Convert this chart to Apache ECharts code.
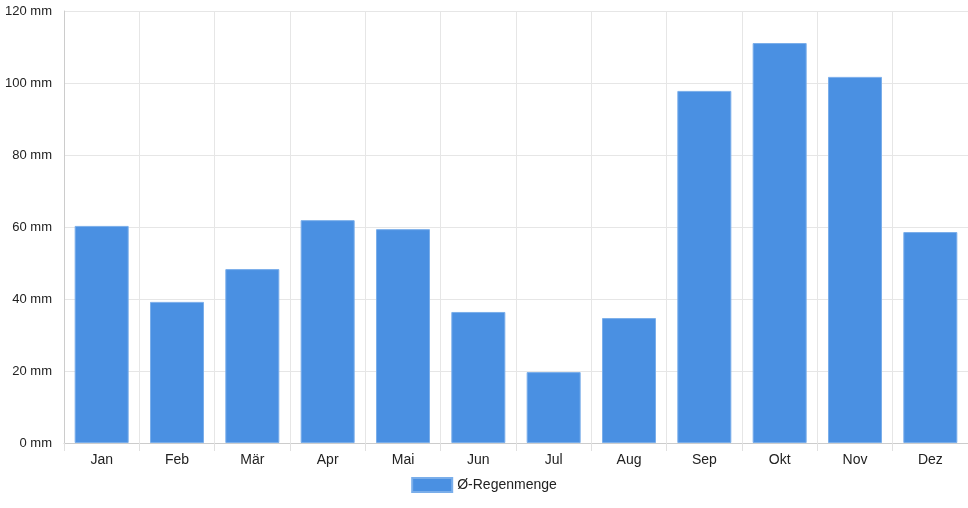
<!DOCTYPE html>
<html>
  <head>
    <meta charset="utf-8" />
    <script src="https://cdn.jsdelivr.net/npm/echarts@6/dist/echarts.min.js"></script>
  </head>
  <body style="margin:0">
    <div id="main" style="width:968px;height:508px;"></div>
    <script type="text/javascript">
      var months = ["Jan", "Feb", "Mär", "Apr", "Mai", "Jun", "Jul", "Aug", "Sep", "Okt", "Nov", "Dez"];
      var rain = [60.3, 39.2, 48.3, 61.9, 59.4, 36.4, 19.7, 34.7, 97.8, 111.1, 101.7, 58.6];

      var myChart = echarts.init(document.getElementById("main"));
      var font = "Liberation Sans, Arial, sans-serif";

      var option = {
        backgroundColor: "#fff",
        animation: false,
        textStyle: { fontFamily: font },
        grid: { left: 64, right: 0, top: 11, bottom: 65 },
        legend: {
          bottom: 10,
          itemWidth: 40,
          itemHeight: 14,
          itemGap: 10,
          icon: "rect",
          textStyle: { color: "#222", fontSize: 14, fontFamily: font },
          data: ["Ø-Regenmenge"]
        },
        xAxis: {
          type: "category",
          data: months,
          axisLine: { lineStyle: { color: "#ccc" } },
          axisTick: { show: true, length: 8, lineStyle: { color: "#e0e0e0" } },
          axisLabel: { color: "#222", fontSize: 14, margin: 10 },
          splitLine: { show: true, lineStyle: { color: "#e6e6e6" } }
        },
        yAxis: {
          type: "value",
          min: 0,
          max: 120,
          interval: 20,
          axisLine: { show: true, lineStyle: { color: "#ccc" } },
          axisTick: { show: false },
          axisLabel: { color: "#222", fontSize: 13, formatter: "{value} mm", margin: 12 },
          splitLine: { lineStyle: { color: "#e6e6e6" } }
        },
        series: [
          {
            name: "Ø-Regenmenge",
            type: "bar",
            data: rain,
            barWidth: 54,
            itemStyle: { color: "#4a90e2", borderColor: "#7aaeea", borderWidth: 1 }
          }
        ]
      };

      myChart.setOption(option);
    </script>
  </body>
</html>
